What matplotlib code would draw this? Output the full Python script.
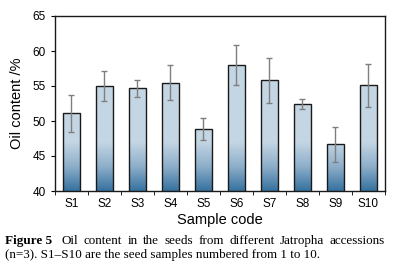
import numpy as np
import matplotlib.pyplot as plt
from matplotlib.colors import LinearSegmentedColormap

# Data
samples = ['S1', 'S2', 'S3', 'S4', 'S5', 'S6', 'S7', 'S8', 'S9', 'S10']
oil = [51.1, 55.0, 54.7, 55.5, 48.9, 58.0, 55.8, 52.4, 46.7, 55.1]
err = [2.6, 2.2, 1.2, 2.5, 1.6, 2.8, 3.2, 0.7, 2.5, 3.1]

fig = plt.figure(figsize=(4.02, 2.69), dpi=100)
ax = fig.add_axes([55 / 402, 1 - 191 / 269, 330 / 402, 175 / 269])

x = np.arange(len(samples))
bars = ax.bar(x, oil, width=0.5, bottom=0, color='none',
              edgecolor='#1a1a1a', linewidth=1.0, zorder=3)

# vertical gradient fill: light blue top, darker blue near the base
cmap = LinearSegmentedColormap.from_list(
    'g', [(0.0, '#36729f'), (0.5, '#8eafca'), (1.0, '#c4d6e4')])
grad = np.clip((np.linspace(40, 65, 256) - 40) / 7.0, 0, 1).reshape(-1, 1)
for b in bars:
    bx, bw = b.get_x(), b.get_width()
    im = ax.imshow(grad, cmap=cmap, vmin=0, vmax=1, aspect='auto',
                   extent=[bx, bx + bw, 40, 65], origin='lower', zorder=2)
    im.set_clip_path(b)

ax.errorbar(x, oil, yerr=err, fmt='none', ecolor='#7f7f7f',
            elinewidth=1.0, capsize=2.5, capthick=1.0, zorder=4)

ax.set_xlim(-0.5, len(samples) - 0.5)
ax.set_ylim(40, 65)
ax.set_yticks([40, 45, 50, 55, 60, 65])
ax.set_xticks(x)
ax.set_xticks(np.arange(-0.5, len(samples), 1.0), minor=True)
ax.set_xticklabels(samples, fontsize=8.5, family='Liberation Sans')
ax.tick_params(axis='x', which='major', length=0, pad=5)
ax.tick_params(axis='x', which='minor', length=3, direction='out')
ax.tick_params(axis='y', length=3, direction='out', labelsize=8.5)
for lab in ax.get_yticklabels():
    lab.set_family('Liberation Sans')
for s in ax.spines.values():
    s.set_linewidth(1.0)
    s.set_color('#1a1a1a')

ax.set_xlabel('Sample code', fontsize=10.5, family='Liberation Sans', labelpad=2)
ax.set_ylabel('Oil content /%', fontsize=10.5, family='Liberation Sans', labelpad=6)

# caption: second line sized to end near x=320 px, first line justified to 385 px
serif = 'Liberation Serif'
fig.canvas.draw()
r = fig.canvas.get_renderer()
l2 = fig.text(5 / 402, 1 - 255 / 269, '(n=3). S1\u2013S10 are the seed samples numbered from 1 to 10.',
              fontsize=8, family=serif, va='center')
cap_fs = 8 * 315 / l2.get_window_extent(r).width
l2.set_fontsize(cap_fs)

line1 = [('Figure 5', 'bold'), ('Oil', 'normal'), ('content', 'normal'), ('in', 'normal'),
         ('the', 'normal'), ('seeds', 'normal'), ('from', 'normal'), ('different', 'normal'),
         ('Jatropha', 'normal'), ('accessions', 'normal')]
y1 = 1 - 241 / 269
words = [fig.text(0, y1, w, fontsize=cap_fs, fontweight=fw, family=serif,
                  va='center') for w, fw in line1]
widths = [w.get_window_extent(r).width for w in words]
gap = (380 - sum(widths) - 4) / (len(words) - 1)
xpos = 5
for i, (w, wd) in enumerate(zip(words, widths)):
    w.set_position((xpos / 402, y1))
    xpos += wd + gap + (4 if i == 0 else 0)

fig.savefig('out.png', dpi=100)
